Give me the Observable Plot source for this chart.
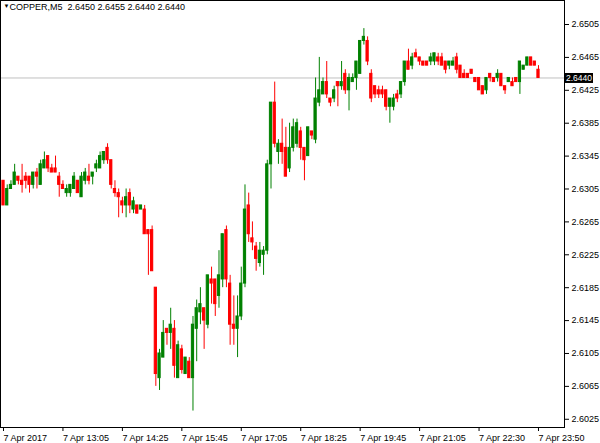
<!DOCTYPE html>
<html><head><meta charset="utf-8">
<script src="https://cdn.jsdelivr.net/npm/d3@7"></script>
<script src="https://cdn.jsdelivr.net/npm/@observablehq/plot@0.6"></script>
<style>
body{margin:0;background:#fff;}
#chart{width:600px;height:443px;}
</style></head><body><div id="chart"></div>
<script>
const symbol = "COPPER,M5";
const open = [
2.6315,2.6285,2.6305,2.6310,2.6320,2.6315,2.6320,2.6320,2.6310,2.6325,
2.6310,2.6330,2.6345,2.6330,2.6330,2.6320,2.6310,2.6300,2.6300,2.6305,
2.6315,2.6295,2.6315,2.6320,2.6320,2.6330,2.6330,2.6340,2.6355,2.6340,
2.6305,2.6300,2.6290,2.6285,2.6300,2.6280,2.6285,2.6280,2.6280,2.6255,
2.6255,2.6185,2.6075,2.6100,2.6135,2.6130,2.6135,2.6075,2.6110,2.6080,
2.6095,2.6075,2.6135,2.6155,2.6160,2.6140,2.6195,2.6195,2.6175,2.6195,
2.6255,2.6190,2.6140,2.6135,2.6150,2.6190,2.6285,2.6245,2.6235,2.6215,
2.6225,2.6230,2.6335,2.6410,2.6350,2.6360,2.6355,2.6330,2.6355,2.6360,
2.6375,2.6355,2.6345,2.6375,2.6365,2.6410,2.6420,2.6435,2.6415,2.6415,
2.6435,2.6430,2.6445,2.6425,2.6435,2.6440,2.6445,2.6485,2.6485,2.6445,
2.6430,2.6425,2.6425,2.6425,2.6405,2.6405,2.6420,2.6420,2.6435,2.6460,
2.6455,2.6470,2.6465,2.6460,2.6460,2.6460,2.6460,2.6465,2.6465,2.6460,
2.6455,2.6455,2.6465,2.6455,2.6445,2.6445,2.6450,2.6440,2.6440,2.6430,
2.6425,2.6445,2.6440,2.6440,2.6445,2.6430,2.6435,2.6435,2.6440,2.6435,
2.6450,2.6455,2.6465,2.6460,2.6450];
const high = [
2.6315,2.6310,2.6315,2.6335,2.6320,2.6335,2.6325,2.6320,2.6325,2.6330,
2.6340,2.6350,2.6345,2.6335,2.6345,2.6325,2.6315,2.6310,2.6310,2.6325,
2.6315,2.6325,2.6330,2.6335,2.6325,2.6340,2.6350,2.6350,2.6360,2.6340,
2.6315,2.6305,2.6295,2.6305,2.6305,2.6295,2.6285,2.6285,2.6285,2.6255,
2.6260,2.6185,2.6110,2.6145,2.6135,2.6160,2.6145,2.6120,2.6115,2.6100,
2.6100,2.6150,2.6170,2.6185,2.6160,2.6200,2.6210,2.6195,2.6230,2.6250,
2.6260,2.6200,2.6175,2.6175,2.6210,2.6310,2.6300,2.6265,2.6240,2.6240,
2.6235,2.6340,2.6410,2.6435,2.6365,2.6390,2.6380,2.6385,2.6390,2.6390,
2.6380,2.6355,2.6380,2.6375,2.6440,2.6465,2.6440,2.6460,2.6415,2.6430,
2.6435,2.6460,2.6450,2.6445,2.6445,2.6460,2.6485,2.6500,2.6490,2.6450,
2.6430,2.6430,2.6430,2.6425,2.6415,2.6420,2.6425,2.6435,2.6460,2.6475,
2.6470,2.6475,2.6465,2.6460,2.6460,2.6470,2.6470,2.6470,2.6470,2.6460,
2.6460,2.6465,2.6470,2.6455,2.6450,2.6445,2.6450,2.6440,2.6440,2.6430,
2.6440,2.6445,2.6440,2.6450,2.6445,2.6430,2.6440,2.6440,2.6440,2.6460,
2.6455,2.6465,2.6465,2.6460,2.6455];
const low = [
2.6285,2.6285,2.6305,2.6310,2.6310,2.6300,2.6305,2.6300,2.6305,2.6305,
2.6310,2.6330,2.6325,2.6325,2.6325,2.6295,2.6305,2.6295,2.6295,2.6305,
2.6300,2.6295,2.6310,2.6310,2.6310,2.6325,2.6330,2.6335,2.6335,2.6305,
2.6295,2.6270,2.6275,2.6270,2.6275,2.6275,2.6275,2.6280,2.6250,2.6200,
2.6205,2.6065,2.6060,2.6100,2.6115,2.6110,2.6075,2.6075,2.6080,2.6080,
2.6075,2.6035,2.6095,2.6140,2.6110,2.6135,2.6165,2.6150,2.6160,2.6185,
2.6185,2.6115,2.6115,2.6100,2.6145,2.6185,2.6240,2.6230,2.6205,2.6210,
2.6200,2.6225,2.6305,2.6355,2.6335,2.6335,2.6320,2.6325,2.6350,2.6355,
2.6340,2.6315,2.6345,2.6365,2.6360,2.6405,2.6420,2.6415,2.6405,2.6410,
2.6405,2.6425,2.6420,2.6400,2.6435,2.6425,2.6445,2.6480,2.6455,2.6410,
2.6415,2.6415,2.6415,2.6400,2.6385,2.6400,2.6410,2.6415,2.6430,2.6450,
2.6450,2.6465,2.6455,2.6455,2.6455,2.6455,2.6455,2.6455,2.6455,2.6445,
2.6450,2.6455,2.6445,2.6440,2.6440,2.6440,2.6445,2.6435,2.6425,2.6420,
2.6420,2.6435,2.6435,2.6435,2.6430,2.6420,2.6435,2.6430,2.6435,2.6420,
2.6450,2.6455,2.6455,2.6455,2.6440];
const close = [
2.6285,2.6305,2.6310,2.6325,2.6315,2.6310,2.6315,2.6310,2.6325,2.6320,
2.6335,2.6340,2.6330,2.6325,2.6325,2.6310,2.6305,2.6305,2.6310,2.6320,
2.6300,2.6320,2.6325,2.6315,2.6325,2.6335,2.6345,2.6350,2.6340,2.6310,
2.6300,2.6295,2.6285,2.6295,2.6285,2.6290,2.6275,2.6285,2.6250,2.6250,
2.6205,2.6080,2.6105,2.6130,2.6130,2.6140,2.6090,2.6115,2.6085,2.6100,
2.6075,2.6140,2.6160,2.6165,2.6145,2.6200,2.6190,2.6165,2.6200,2.6250,
2.6195,2.6140,2.6135,2.6150,2.6190,2.6280,2.6250,2.6240,2.6220,2.6230,
2.6230,2.6335,2.6410,2.6360,2.6360,2.6350,2.6320,2.6355,2.6380,2.6385,
2.6355,2.6340,2.6380,2.6370,2.6415,2.6425,2.6435,2.6420,2.6410,2.6425,
2.6430,2.6435,2.6425,2.6440,2.6440,2.6460,2.6485,2.6490,2.6460,2.6415,
2.6420,2.6420,2.6420,2.6405,2.6415,2.6415,2.6415,2.6435,2.6460,2.6450,
2.6465,2.6465,2.6460,2.6455,2.6455,2.6465,2.6470,2.6460,2.6455,2.6450,
2.6460,2.6460,2.6450,2.6440,2.6440,2.6440,2.6445,2.6435,2.6425,2.6420,
2.6440,2.6440,2.6435,2.6445,2.6430,2.6425,2.6440,2.6430,2.6435,2.6460,
2.6455,2.6465,2.6455,2.6455,2.6440];
const timeLabels = ["7 Apr 2017","7 Apr 13:05","7 Apr 14:25","7 Apr 15:45","7 Apr 17:05",
  "7 Apr 18:25","7 Apr 19:45","7 Apr 21:05","7 Apr 22:30","7 Apr 23:50"];
const barsPerLabel = 16;
const yTicks = [2.6025,2.6065,2.6105,2.6145,2.6185,2.6225,2.6265,2.6305,2.6345,2.6385,2.6425,2.6465,2.6505];

const GREEN = "#008000", RED = "#ff0000";
const FONT = "'Liberation Sans', Arial, sans-serif";
const n = open.length;
const last = n - 1;
const bars = open.map((o, i) => ({i, o, h: high[i], l: low[i], c: close[i]}));
const up = bars.filter(d => d.c >= d.o);
const down = bars.filter(d => d.c < d.o);
const fmt = v => v.toFixed(4);
const header = `${symbol}  ${fmt(open[last])} ${fmt(high[last])} ${fmt(low[last])} ${fmt(close[last])}`;
const xTicks = timeLabels.map((_, k) => k * barsPerLabel);
const hw = 0.3;
const W = 600, H = 443, MR = 36, MB = 16;

const candle = (data, color) => [
  Plot.ruleX(data, {x: "i", y1: "l", y2: "h", stroke: color, strokeWidth: 1}),
  Plot.rect(data, {x1: d => d.i - hw, x2: d => d.i + hw, y1: "o", y2: "c", fill: color, stroke: color, strokeWidth: 1})
];

const chart = Plot.plot({
  width: W, height: H,
  marginLeft: 0, marginRight: MR, marginTop: 0, marginBottom: MB,
  x: {type: "linear", domain: [-0.81, 151.0]},
  y: {domain: [2.6015, 2.65342]},
  style: {fontFamily: FONT, fontSize: "9px", color: "#000", background: "#fff", overflow: "visible"},
  marks: [
    Plot.ruleY([close[last]], {stroke: "#c0c0c0", strokeWidth: 1}),
    ...candle(up, GREEN),
    ...candle(down, RED),
    Plot.frame({stroke: "#000"}),
    Plot.axisY({anchor: "right", ticks: yTicks, tickSize: 4, tickPadding: 3, tickFormat: fmt, label: null, fontSize: 9}),
    Plot.axisX({anchor: "bottom", ticks: xTicks, tickSize: 4, tickPadding: 3,
      tickFormat: i => timeLabels[Math.round(i / barsPerLabel)], textAnchor: "start", label: null, fontSize: 9}),
    // current price marker: a thick rule extended past the frame into the axis area, and its label
    Plot.ruleY([close[last]], {stroke: "#000", strokeWidth: 10, insetLeft: W - MR, insetRight: -29}),
    Plot.text([close[last]], {y: d => d, frameAnchor: "right", dx: 1.5, textAnchor: "start", fill: "#fff", fontSize: 8.5, text: d => fmt(d)}),
    Plot.text([header], {frameAnchor: "top-left", dx: 9, dy: 3, lineAnchor: "top", textAnchor: "start", fontSize: 9, fill: "#000"}),
    Plot.text(["\u25BC"], {frameAnchor: "top-left", dx: 3, dy: 3, lineAnchor: "top", textAnchor: "start", fontSize: 6, fill: "#000"})
  ]
});
document.getElementById("chart").appendChild(chart);
</script></body></html>
